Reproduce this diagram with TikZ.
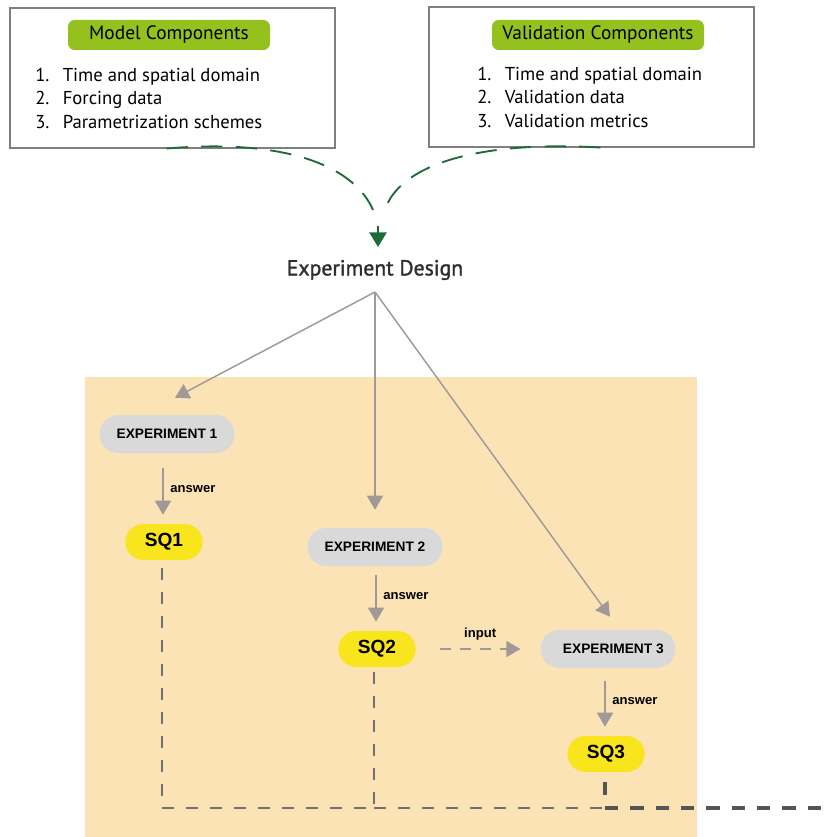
\documentclass[tikz,border=0pt]{standalone}
\usepackage{fontspec}
\setmainfont{Liberation Sans}
\newfontfamily\myr{PT Sans}
\newfontfamily\myrsb[FakeBold=1.5]{PT Sans}
\usetikzlibrary{arrows.meta,calc}
\definecolor{lime}{HTML}{95C11F}
\definecolor{dgreen}{HTML}{1E6B3A}
\definecolor{bgor}{HTML}{FCE3B6}
\definecolor{pillg}{HTML}{D9D9D9}
\definecolor{pilly}{HTML}{F9E51E}
\definecolor{arrg}{HTML}{A09A96}
\definecolor{dashg}{HTML}{707070}
\definecolor{dashd}{HTML}{555555}
\definecolor{boxg}{HTML}{7F7F7F}
\begin{document}
\begin{tikzpicture}[x=0.75pt,y=-0.75pt,
  compbox/.style={draw=boxg,line width=0.8pt,minimum width=243.75pt,minimum height=105pt,inner sep=0},
  greenlab/.style={fill=lime,rounded corners=5pt,inner sep=0,minimum height=22.5pt,font=\myr\fontsize{14.5}{16}\selectfont},
  listtxt/.style={inner sep=0,anchor=west,font=\myr\fontsize{14}{17.7}\selectfont,align=left},
  exp/.style={fill=pillg,rounded corners=14pt,minimum width=101pt,minimum height=28.5pt,inner sep=0,font=\bfseries\fontsize{10.3}{12}\selectfont},
  sq/.style={fill=pilly,rounded corners=13.5pt,minimum width=58pt,minimum height=27pt,inner sep=0,font=\bfseries\fontsize{14.3}{16}\selectfont},
  garrow/.style={draw=arrg,line width=1.1pt,-{Triangle[width=12pt,length=10.5pt]}},
  lbl/.style={font=\bfseries\fontsize{9.8}{11}\selectfont,inner sep=2pt},
  thindash/.style={draw=dashg,line width=1pt,dash pattern=on 9pt off 9pt},
  thickdash/.style={draw=dashd,line width=2.3pt,dash pattern=on 10pt off 9pt},
  greendash/.style={draw=dgreen,line width=1.4pt,dash pattern=on 16pt off 10pt}
]
\useasboundingbox (0,0) rectangle (825,837);
\fill[bgor] (85,377) rectangle (697,837);

% top boxes
\node[compbox] (mb) at (172.5,78) {};
\node[greenlab,minimum width=151.5pt] (ml) at (169,35) {\raisebox{-1pt}{Model Components}};
\node[listtxt] (mlist) at (35,100) {\begin{tabular}{@{}l@{\hspace{10pt}}l@{}}1. & Time and spatial domain\\ 2. & Forcing data\\ 3. & Parametrization schemes\end{tabular}};

\node[compbox] (vb) at (591.5,77) {};
\node[greenlab,minimum width=159pt] (vl) at (598,35) {\raisebox{-1pt}{Validation Components}};
\node[listtxt] (vlist) at (477,99) {\begin{tabular}{@{}l@{\hspace{10pt}}l@{}}1. & Time and spatial domain\\ 2. & Validation data\\ 3. & Validation metrics\end{tabular}};

% experiment design
\node[inner sep=0,font=\myrsb\fontsize{16.3}{18}\selectfont,text=black!82] (ed) at (375,270) {Experiment Design};
\coordinate (gm) at (373,210);
\coordinate (gv) at (385,210);
\coordinate (gs) at (378,226);
\coordinate (gt) at (378,247);
\draw[greendash] ($(mb.south)+(-6,0)$) .. controls (290,138) and (355,168) .. (gm);
\draw[greendash] ($(vb.south)+(9,0)$) .. controls (470,140) and (398,168) .. (gv);
\draw[draw=dgreen,line width=1.3pt,-{Triangle[width=13pt,length=11pt]}] (gs) -- (gt);

\coordinate (edb) at (375,292);

% experiment nodes
\node[exp] (e1) at (167,434) {EXPERIMENT 1};
\node[sq] (sq1) at (164,542) {SQ1};
\node[exp] (e2) at (375,547) {EXPERIMENT 2};
\node[sq] (sq2) at (377,649) {SQ2};
\node[exp] (e3) at (608,649) {\hspace{8pt}EXPERIMENT 3};
\node[sq] (sq3) at (606,754) {SQ3};

\draw[garrow] (edb) -- ($(e1.north)+(8,-17)$);
\draw[garrow] (edb) -- ($(e2.north)+(0,-18)$);
\draw[garrow] (edb) -- ($(e3.north)+(2,-13)$);

\draw[garrow] ($(e1.south)+(-4,15)$) -- ($(sq1.north)+(-1,-9)$) node[lbl,midway,right=3pt,yshift=2pt] {answer};
\draw[garrow] ($(e2.south)+(1,9)$) -- ($(sq2.north)+(-1,-9)$) node[lbl,midway,right=3pt,yshift=2pt] {answer};
\draw[garrow] ($(e3.south)+(-3,13)$) -- ($(sq3.north)+(-1,-9)$) node[lbl,midway,right=3pt,yshift=2pt] {answer};

\draw[draw=arrg,line width=1.1pt,dash pattern=on 8pt off 7pt,-{Triangle[width=12pt,length=10.5pt]}] ($(sq2.east)+(24,0)$) -- ($(e3.west)+(-20,0)$) node[lbl,midway,above=4pt] {input};

% dashed return lines
\coordinate (jn) at (374,808);
\coordinate (j3) at (605,808);
\coordinate (rend) at (825,808);
\draw[thindash] ($(sq1.south)+(-2,8)$) |- (jn) -- (sq2.south -| jn);
\draw[thindash] (jn) -- (j3);
\draw[thickdash,dash pattern=on 10pt off 0pt] ($(sq3.south)+(-1,10)$) -- ($(sq3.south)+(-1,23)$);
\draw[thickdash] (j3) -- (rend);
\end{tikzpicture}
\end{document}
